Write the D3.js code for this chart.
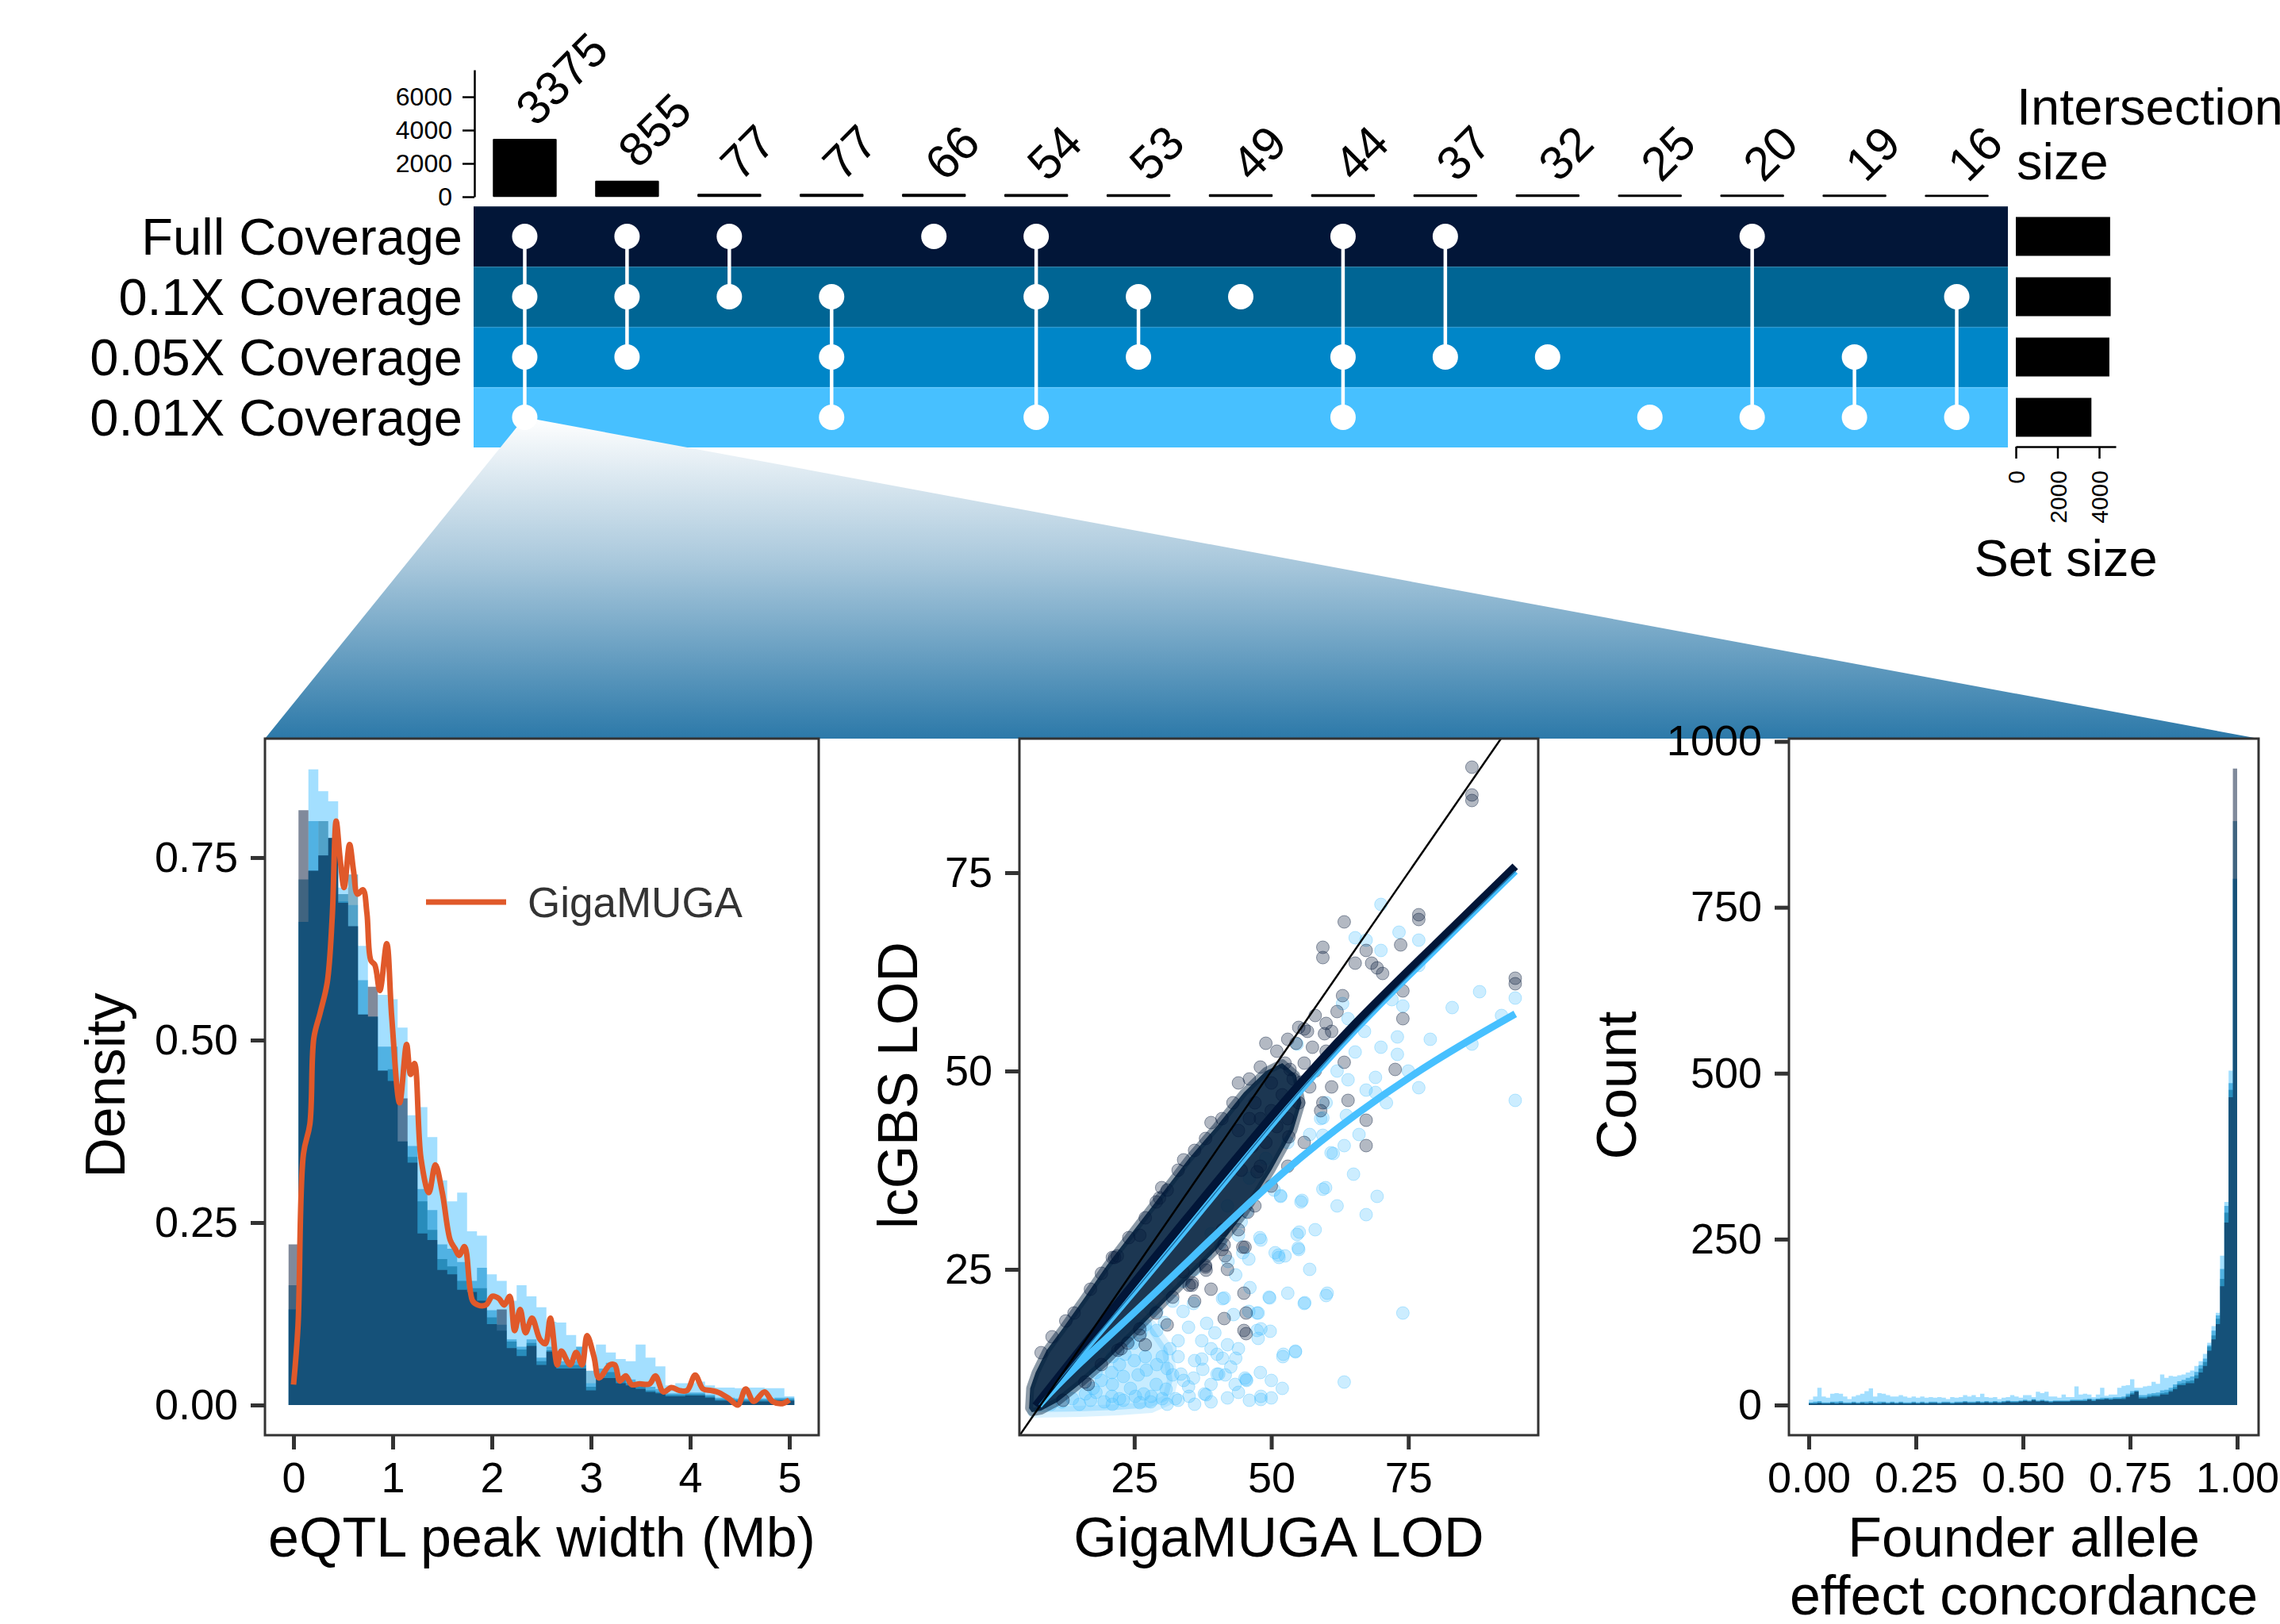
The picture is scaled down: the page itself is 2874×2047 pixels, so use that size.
<!DOCTYPE html>
<html><head><meta charset="utf-8">
<script src="https://cdn.jsdelivr.net/npm/d3@7"></script>
<style>
html,body{margin:0;padding:0;background:#fff;}
svg{display:block;font-family:"Liberation Sans",Arial,Helvetica,sans-serif;}
</style>
</head><body>
<svg id="chart" width="2874" height="2047"></svg>
<script>
// ---------------- DATA ----------------
const sets = ["Full Coverage","0.1X Coverage","0.05X Coverage","0.01X Coverage"];
const setColors = ["#021638","#006594","#0086C8","#47C0FF"];
const setSizes = [4528,4556,4492,3630];
const intersectionSizes = [3375,855,77,77,66,54,53,49,44,37,32,25,20,19,16];
const intersectionMembers = [[0,1,2,3],[0,1,2],[0,1],[1,2,3],[0],[0,1,3],[1,2],[1],[0,2,3],[0,2],[2],[3],[0,3],[2,3],[1,3]];
const interTicks = [0,2000,4000,6000];
const setTicks = [0,2000,4000];

// Panel 1: eQTL peak width density histograms (bins of 0.1 Mb centred on 0..5)
const p1Full  = [.22,.815,.732,.753,.777,.688,.656,.535,.573,.458,.444,.42,.332,.235,.226,.185,.179,.158,.155,.143,.111,.131,.078,.067,.081,.055,.073,.05,.05,.05,.02,.037,.037,.03,.027,.022,.018,.016,.012,.012,.013,.013,.01,.006,.006,.005,.005,.005,.005,.006,.006];
const p1X01   = [.164,.72,.732,.80,.777,.70,.727,.535,.532,.458,.46,.361,.34,.279,.24,.20,.19,.17,.16,.16,.12,.102,.087,.076,.085,.06,.075,.055,.055,.055,.025,.04,.045,.035,.03,.025,.02,.018,.014,.014,.015,.015,.012,.008,.008,.007,.007,.007,.007,.008,.008];
const p1X005  = [.131,.662,.80,.753,.777,.69,.656,.582,.532,.491,.491,.361,.355,.296,.267,.22,.214,.196,.17,.188,.13,.11,.09,.08,.09,.065,.08,.06,.06,.08,.047,.05,.058,.04,.035,.03,.025,.022,.016,.016,.017,.017,.014,.01,.01,.009,.009,.009,.009,.01,.01];
const p1X001  = [.131,.662,.871,.841,.827,.709,.685,.629,.532,.562,.556,.517,.397,.408,.367,.308,.279,.291,.238,.232,.179,.17,.143,.164,.149,.134,.114,.113,.096,.08,.03,.083,.072,.063,.06,.083,.065,.053,.027,.03,.03,.032,.027,.024,.024,.023,.024,.024,.023,.023,.012];
const p1Ticks = [0,0.25,0.5,0.75];
const p1XTicks = [0,1,2,3,4,5];
const gigaMUGA = [[0,0.028],[0.045,0.108],[0.1,0.344],[0.165,0.385],[0.205,0.503],[0.27,0.538],[0.34,0.579],[0.39,0.668],[0.43,0.80],[0.47,0.748],[0.51,0.709],[0.565,0.768],[0.605,0.732],[0.645,0.70],[0.7,0.706],[0.74,0.674],[0.78,0.609],[0.82,0.603],[0.87,0.568],[0.94,0.632],[0.99,0.532],[1.07,0.414],[1.14,0.494],[1.18,0.453],[1.22,0.468],[1.285,0.338],[1.365,0.291],[1.43,0.329],[1.5,0.291],[1.58,0.226],[1.63,0.214],[1.67,0.205],[1.725,0.217],[1.805,0.143],[1.86,0.137],[1.94,0.137],[2.005,0.149],[2.07,0.146],[2.125,0.137],[2.18,0.149],[2.23,0.102],[2.285,0.131],[2.34,0.099],[2.405,0.119],[2.485,0.09],[2.54,0.084],[2.59,0.119],[2.66,0.055],[2.70,0.074],[2.79,0.055],[2.85,0.072],[2.91,0.055],[2.96,0.095],[3.03,0.066],[3.08,0.037],[3.19,0.055],[3.24,0.055],[3.29,0.033],[3.35,0.04],[3.41,0.028],[3.49,0.029],[3.59,0.029],[3.65,0.04],[3.73,0.018],[3.81,0.024],[3.89,0.02],[3.97,0.02],[4.05,0.041],[4.13,0.022],[4.21,0.02],[4.29,0.017],[4.39,0.009],[4.48,0.0],[4.56,0.022],[4.64,0.005],[4.75,0.018],[4.83,0.005],[4.93,0.002],[5.0,0.007]];

// Panel 2: LOD scatter
const p2Ticks = [25,50,75];
const fitFull = [[7,7.8],[15,14.8],[25.5,23.8],[40,36],[52,46],[65,56],[80,66],[94.5,75.8]];
const fitMid  = [[7.6,7.9],[15,14.2],[25.5,22.6],[40,34.8],[52,45],[65,55.2],[80,65.4],[94.5,75.2]];
const fitLow  = [[7.6,7.9],[12.3,11.5],[25.5,19.8],[40,29.5],[52,37.3],[65,44.5],[80,51.5],[94.5,57.2]];
const coreFull = [[5.8,7.5],[6,10],[7,12],[9,14.8],[12,17.6],[16,21.5],[20,25.5],[25,30],[30,34.5],[35,39],[40,43],[45,47.3],[49,50],[52,51],[54.5,49.5],[55.5,46],[54,42.5],[50,37.5],[45,32],[40,27.5],[35,24],[30,20.5],[25,17],[20,13.5],[15,10.5],[11,8.3],[8,7.2],[6.3,7]];
const coreLow = [[6.5,7],[15,7.1],[22,7.3],[28,7.6],[31,8.5],[32,11],[31,15],[28,18],[25,19],[20,15.8],[15,12.8],[10,9.8],[7,7.8]];
const navyPts = [[86.6,88.3],[86.6,84.8],[86.6,84.1],[63.3,68.8],[59.4,65.6],[59.4,64.3],[67.3,65.2],[65.3,63.6],[73.6,65.9],[76.9,69.7],[76.9,69.1],[68.3,63.6],[69.3,63],[70.3,62.3],[74,60.1],[74,56.6],[72.6,50.2],[94.5,61.7],[94.5,61],[63,59.5],[60,56],[59.7,54.7],[63.3,51.1],[64,46.3],[59.4,46],[67.3,43.8],[67.3,40.6],[56,55.3],[56.6,55],[53.4,50.2],[55.4,48.6],[45.4,19.5],[45.4,16.9],[41.4,18.8],[38.1,24.9],[35.5,23],[41.4,28.1],[44.8,27.8],[45.2,27.8],[41.6,26.7],[45,22],[45,17.3],[35.6,23.3],[38,25.3],[22.6,15],[16.6,10.5],[26,16.7],[23.8,15.7],[33.9,24.7],[41.1,30],[45.7,32.2],[47.4,37.3],[53.2,41.7],[21.9,26.7],[29.6,34],[26,29.3],[21.4,26.5],[50,45],[52,47],[54,49],[56,51],[48,44],[51,43],[53,44],[55,46],[57,48],[50,48.5],[52.5,51],[54.5,53.5],[49,41],[46.5,40.5],[48,38],[44.5,37.5],[58,50],[60,52.5],[61,55],[62,57.5],[57.5,53],[47,46],[44,42.5],[46,44],
  [8,14.5],[10,16.5],[12.5,18.5],[14,19.5],[17,22.5],[19,24.5],[21,26.5],[24,29],[27,31.5],[29,33.5],[31,35],[33,37.5],[36,40],[38,41.5],[41,44],[43,46],[46,49],[48,50.5],[51,52.5],[53,54],[55,55.5],[58,57],[49,53.5],[44,48.5],[39,43.5],[34,38.8],[30,35.3],
  [12,8.5],[16,10.8],[19,13],[22,14.8],[26,17.5],[29,19.5],[32,21.5],[35,23],[38,25.5],[41,27.5],[44,30],[47,33],[50,35.5],[53,38],[56,41],[59,45],[61,48],[36,21],[39,22.5],[42,25],[31,18],[27,15.5]];
const lightPts = [[70,71],[65.3,66.8],[67.3,66.5],[73.3,67.5],[76.9,66.5],[76.9,63.3],[70,65.2],[74,58.2],[73,54.3],[73,52.1],[94.5,59.2],[94.5,46.3],[86.6,53.4],[76.9,47.9],[63,58.5],[64,56.6],[65.3,52.4],[64,48.9],[63.7,44.4],[59.4,44.1],[59.4,41.9],[67.3,47.6],[69,49.2],[69,47.3],[69.3,34.2],[67.3,31.9],[59.4,35.1],[55.4,33.5],[51.7,34.2],[61.3,39.6],[63.3,40.6],[54.7,53.4],[74,19.5],[60,21.7],[56,20.7],[63.3,10.8],[54.4,14.6],[52.1,14],[51.4,26.5],[54.7,29.4],[55,27.5],[48.1,28.7],[46.1,22.7],[49.7,21.4],[47.4,19.5],[48.1,17.5],[45.4,11.1],[48.1,8.6],[41.4,21.4],[44.8,27.1],[40.1,14.3],[37.5,12.4],[40.1,11.8],[43.4,10.5],[38.1,9.2],[33.5,11.8],[30.8,9.9],[50.7,27.1],[47.9,29],[55.1,29.7],[54.9,27.7],[51.3,26.8],[52.5,26.7],[60.2,22],[56.1,20.8],[49.6,21.5],[59.9,35.3],[55.6,33.7],[50.5,35],[51.7,34.3],[41.1,21.3],[38.2,18.2],[39.7,17],[47.4,17.3],[49.8,17.2],[47.6,16.3],[45.9,19.7],[47.6,19.5],[43.1,19.3],[52.2,14.3],[54.4,14.7],[41.1,13.8],[43.5,13.8],[37.3,13.7],[42.6,12.7],[40.4,11.8],[41.6,11.7],[45.2,11.3],[45.5,11],[37.8,9.3],[48.1,9],[35.8,11.3],[34.9,10.2],[32,11.7],[32.5,8.7],[30.1,8.7],[28.1,9],[26.7,9.3],[25.2,9],[24.3,10],[22.3,8.7],[20.9,9],[19.5,8.3],[33,16],[31.5,15],[30.1,14],[29.1,13],[27.2,12.3],[25.7,11.7],[29.1,17.3],[30.5,18.3],[33.9,19.7],[35.8,20.7],[34.9,17.7],[37.3,16],[32,21],[29.1,19.7],[26.2,17],[24.8,15.7],[23.3,14.3],[22.3,13],[20.9,12],[19,11],[17.5,10],[16.1,9.3],[13.7,8.7],[11.8,8.3],[9.8,8],[45.9,26.3],[43.5,24.3],[42.1,26],[44,29.3],[44.5,31],[45.5,32.3],[40.7,28.3],[59,44],[60.9,39.7],
  [15,8],[17,8.5],[21,8],[23,8.5],[26,8.2],[28,8.3],[31,8],[33,8.5],[35,9],[36,8],[39,8.3],[42,8.8],[44,9.5],[46,8.5],[50,8.8],[18,12],[21,14],[24,16],[27,18],[28,20],[31,22.5],[34,23.5],[36,25],[38,27],[39,29.5],[42,33],[46,36.5],[49,39],[53,41],[57,42],[60,46],[62,50],[48,12],[50,11],[52,10],[44,15],[39,15],[36,13.5],[33,14],[27,14],[25,13.5],[23,11.5],[21,10.5],[18,9.5],[29,10.5],[31,12.5],[34,11],[39,10.5],[42,15.5],[53,22],[57,25],[58,30],[62,33],[65,37],[66,42],[71,46],[75,50],[79,54],[83,58],[88,60],[92,57],[70,53],[67,55],[72,59]];

// Panel 3: founder allele effect concordance (bins of 0.01 from 0 to 1)
const p3Full = [2,2,3,2,2,3,2,3,2,2, 3,2,3,2,3,2,2,3,2,3, 2,3,2,2,3,2,3,2,3,3, 2,3,3,2,3,3,4,3,3,4, 3,4,3,4,3,4,5,4,4,5, 6,5,7,5,6,5,4,5,5,5, 5,6,6,6,6,8,6,8,8,9, 8,9,9,9,12,16,20,10,10,12, 13,13,16,16,20,24,30,30,33,33, 40,49,59,82,99,122,179,275,464,959];
const p3X01  = [3,3,4,3,3,4,3,4,3,3, 4,3,4,3,4,3,3,4,3,4, 3,4,3,3,4,3,4,3,4,4, 3,4,4,3,4,4,5,4,4,5, 4,5,4,5,4,5,6,5,5,6, 7,6,8,6,7,6,5,6,6,6, 6,7,7,7,7,9,7,9,9,10, 9,10,10,11,14,18,21,12,12,14, 15,15,18,19,22,27,32,33,36,37, 45,55,65,88,105,130,190,290,475,880];
const p3X005 = [4,5,6,4,4,5,5,6,4,4, 5,4,5,5,6,4,5,5,4,5, 4,5,4,4,5,4,5,4,5,5, 4,5,5,4,5,5,6,5,5,6, 5,6,5,6,5,6,7,6,6,7, 8,7,9,7,8,7,6,7,7,7, 7,8,8,8,9,10,9,10,11,11, 11,12,12,13,17,21,22,15,15,17, 18,19,22,23,26,31,36,38,41,43, 50,60,70,90,112,135,205,300,485,793];
const p3X001 = [8,13,26,13,11,17,18,17,13,9, 13,15,17,21,25,13,18,17,15,13, 13,15,13,11,13,11,13,11,12,11, 12,11,9,12,11,12,15,13,15,12, 17,12,11,12,9,11,12,15,13,11, 15,15,12,20,18,20,13,13,11,16, 12,12,28,16,17,16,12,16,26,14, 16,16,26,29,30,39,26,26,28,29, 35,32,46,41,44,43,45,46,49,52, 59,66,77,94,119,139,225,306,504,793];
const p3YTicks = [0,250,500,750,1000];
const p3XTicks = [0,0.25,0.5,0.75,1];

// ---------------- DRAW ----------------
const svg = d3.select("#chart");
const defs = svg.append("defs");
const FF = "Liberation Sans, Arial, sans-serif";

// ----- UpSet -----
const colX = d3.scaleBand().domain(d3.range(intersectionSizes.length)).range([597,2531]).paddingInner(0.38).paddingOuter(0.19);
const rowY = d3.scaleBand().domain(d3.range(sets.length)).range([260,564]);
const interY = d3.scaleLinear().domain([0,7620]).range([248,88]);
const setX = d3.scaleLinear().domain([0,4800]).range([2541,2667]);
const cx = i => colX(i) + colX.bandwidth()/2;
const cy = r => rowY(r) + rowY.bandwidth()/2;

svg.append("g").selectAll("rect").data(intersectionSizes).enter().append("rect")
  .attr("x",(d,i)=>colX(i)+1).attr("width",colX.bandwidth()-2)
  .attr("y",d=>interY(d)-1).attr("height",d=>interY(0)-interY(d))
  .attr("fill","#000").attr("stroke","#000").attr("stroke-width",2.5).attr("stroke-linejoin","round");

svg.append("g").selectAll("text").data(intersectionSizes).enter().append("text")
  .attr("transform",(d,i)=>`translate(${cx(i)+14},${interY(d)-16}) rotate(-45)`)
  .attr("font-size",60).attr("fill","#000").text(d=>d);

const ia = svg.append("g").attr("transform","translate(598,0)")
  .call(d3.axisLeft(interY).tickValues(interTicks).tickFormat(d3.format("d")).tickSize(15).tickSizeOuter(0).tickPadding(13));
ia.selectAll("path,line").attr("stroke","#000").attr("stroke-width",2.5);
ia.selectAll("text").attr("font-size",32).attr("fill","#000").attr("font-family",FF);

svg.append("text").attr("x",2542).attr("y",157).attr("font-size",65).text("Intersection");
svg.append("text").attr("x",2542).attr("y",226).attr("font-size",65).text("size");

// matrix background
svg.append("g").selectAll("rect").data(sets).enter().append("rect")
  .attr("x",597).attr("width",2531-597).attr("y",(d,i)=>rowY(i)).attr("height",rowY.bandwidth())
  .attr("fill",(d,i)=>setColors[i]);
svg.append("g").selectAll("line").data(d3.range(sets.length)).enter().append("line")
  .attr("x1",597).attr("x2",2531).attr("y1",i=>rowY(i)+0.5).attr("y2",i=>rowY(i)+0.5)
  .attr("stroke","#ffffff").attr("stroke-opacity",0.18).attr("stroke-width",1.5);

svg.append("g").selectAll("text").data(sets).enter().append("text")
  .attr("x",583).attr("y",(d,i)=>cy(i)).attr("dy","0.36em").attr("text-anchor","end")
  .attr("font-size",65).attr("fill","#000").text(d=>d);

// panel boxes (bottom)
const B1 = {x0:334,x1:1032,y0:931,y1:1809};
const B2 = {x0:1285,x1:1939,y0:931,y1:1809};
const B3 = {x0:2255,x1:2847,y0:931,y1:1809};

// zoom polygon with gradient (apex = the 0.01X dot of the largest intersection)
const grad = defs.append("linearGradient").attr("id","zoomGrad").attr("gradientUnits","userSpaceOnUse")
  .attr("x1",0).attr("x2",0).attr("y1",cy(3)).attr("y2",B1.y0);
grad.append("stop").attr("offset",0).attr("stop-color","#ffffff");
grad.append("stop").attr("offset",0.45).attr("stop-color","#a9c8dc");
grad.append("stop").attr("offset",1).attr("stop-color","#2c79a9");
svg.append("path")
  .attr("d",`M${cx(0)},${cy(3)}L${B1.x0},${B1.y0}L${B3.x1},${B3.y0}Z`)
  .attr("fill","url(#zoomGrad)");

// connecting lines and dots
const mg = svg.append("g");
intersectionMembers.forEach((m,i)=>{
  const lo = d3.min(m), hi = d3.max(m);
  if (hi>lo) mg.append("line").attr("x1",cx(i)).attr("x2",cx(i)).attr("y1",cy(lo)).attr("y2",cy(hi))
    .attr("stroke","#fff").attr("stroke-width",4.5);
  m.forEach(r=> mg.append("circle").attr("cx",cx(i)).attr("cy",cy(r)).attr("r",16).attr("fill","#fff"));
});

// set size bars
svg.append("g").selectAll("rect").data(setSizes).enter().append("rect")
  .attr("x",setX(0)).attr("width",d=>setX(d)-setX(0))
  .attr("y",(d,i)=>cy(i)-24.5).attr("height",49).attr("fill","#000");
const sa = svg.append("g").attr("transform","translate(0,563)")
  .call(d3.axisBottom(setX).tickValues(setTicks).tickFormat(d3.format("d")).tickSize(15).tickSizeOuter(0));
sa.selectAll("path,line").attr("stroke","#000").attr("stroke-width",2.5);
sa.selectAll("text").attr("transform","rotate(-90)").attr("x",-30).attr("y",0).attr("dy","0.35em")
  .attr("text-anchor","end").attr("font-size",30).attr("fill","#000").attr("font-family",FF);
svg.append("text").attr("x",2604).attr("y",726).attr("text-anchor","middle").attr("font-size",65).text("Set size");

// ----- helpers for bottom panels -----
function styleAxis(g){
  g.select(".domain").remove();
  g.selectAll("line").attr("stroke","#333").attr("stroke-width",5);
  g.selectAll("text").attr("font-size",54).attr("fill","#000").attr("font-family",FF);
}
function frame(B){
  svg.append("rect").attr("x",B.x0).attr("y",B.y0).attr("width",B.x1-B.x0).attr("height",B.y1-B.y0)
    .attr("fill","none").attr("stroke","#333").attr("stroke-width",3);
}
function clip(id,B){
  defs.append("clipPath").attr("id",id).append("rect").attr("x",B.x0).attr("y",B.y0).attr("width",B.x1-B.x0).attr("height",B.y1-B.y0);
}
function stepHist(g, x, y, edges, width, vals, color){
  const pts = vals.map((v,i)=>({x:edges[i], v}));
  pts.push({x:edges[vals.length-1]+width, v:vals[vals.length-1]});
  g.append("path").datum(pts)
    .attr("d", d3.area().curve(d3.curveStepAfter).x(d=>x(d.x)).y0(y(0)).y1(d=>y(d.v)))
    .attr("fill",color).attr("fill-opacity",0.5);
}

// ----- Panel 1 -----
const x1 = d3.scaleLinear().domain([-0.288,5.296]).range([B1.x0,B1.x1]);
const y1 = d3.scaleLinear().domain([-0.0413,0.913]).range([B1.y1,B1.y0]);
clip("c1",B1);
const g1 = svg.append("g").attr("clip-path","url(#c1)");
const edges1 = d3.range(p1Full.length).map(i=>i*0.1-0.05);
[[p1X001,3],[p1X005,2],[p1X01,1],[p1Full,0]].forEach(([v,c])=>stepHist(g1,x1,y1,edges1,0.1,v,setColors[c]));
g1.append("path").datum(gigaMUGA)
  .attr("d", d3.line().curve(d3.curveCatmullRom.alpha(0.5)).x(d=>x1(d[0])).y(d=>y1(d[1])))
  .attr("fill","none").attr("stroke","#E0592A").attr("stroke-width",7).attr("stroke-linejoin","round");
svg.append("line").attr("x1",537).attr("x2",638).attr("y1",1137).attr("y2",1137).attr("stroke","#E0592A").attr("stroke-width",7);
svg.append("text").attr("x",665).attr("y",1137).attr("dy","0.36em").attr("font-size",53).attr("fill","#333").text("GigaMUGA");
frame(B1);
styleAxis(svg.append("g").attr("transform",`translate(${B1.x0},0)`)
  .call(d3.axisLeft(y1).tickValues(p1Ticks).tickFormat(d3.format(".2f")).tickSize(18).tickPadding(16)));
styleAxis(svg.append("g").attr("transform",`translate(0,${B1.y1})`)
  .call(d3.axisBottom(x1).tickValues(p1XTicks).tickFormat(d3.format("d")).tickSize(18).tickPadding(16)));

// ----- Panel 2 -----
const x2 = d3.scaleLinear().domain([4.04,98.7]).range([B2.x0,B2.x1]);
const y2 = d3.scaleLinear().domain([4.1,91.9]).range([B2.y1,B2.y0]);
clip("c2",B2);
const g2 = svg.append("g").attr("clip-path","url(#c2)");
const polyXY = d3.line().curve(d3.curveLinearClosed).x(d=>x2(d[0])).y(d=>y2(d[1]));
g2.append("path").datum(coreLow).attr("d",polyXY).attr("fill","#47C0FF").attr("fill-opacity",0.3)
  .attr("stroke","#47C0FF").attr("stroke-opacity",0.2).attr("stroke-width",14).attr("stroke-linejoin","round");
g2.selectAll(null).data(lightPts).enter().append("circle")
  .attr("cx",d=>x2(d[0])).attr("cy",d=>y2(d[1])).attr("r",8)
  .attr("fill","#47C0FF").attr("fill-opacity",0.28).attr("stroke","#47C0FF").attr("stroke-opacity",0.35).attr("stroke-width",1);
g2.append("path").datum(coreFull).attr("d",polyXY)
  .attr("fill","#03213F").attr("fill-opacity",0.9).attr("stroke","#03213F").attr("stroke-opacity",0.45)
  .attr("stroke-width",10).attr("stroke-linejoin","round");
g2.selectAll(null).data(navyPts).enter().append("circle")
  .attr("cx",d=>x2(d[0])).attr("cy",d=>y2(d[1])).attr("r",8)
  .attr("fill","#021638").attr("fill-opacity",0.3).attr("stroke","#021638").attr("stroke-opacity",0.4).attr("stroke-width",1);
const fitLine = d3.line().curve(d3.curveBasis).x(d=>x2(d[0])).y(d=>y2(d[1]));
g2.append("path").datum(fitLow).attr("d",fitLine).attr("fill","none").attr("stroke","#47C0FF").attr("stroke-width",9);
g2.append("path").datum(fitMid).attr("d",fitLine).attr("fill","none").attr("stroke","#47C0FF").attr("stroke-width",9);
g2.append("path").datum(fitFull).attr("d",fitLine).attr("fill","none").attr("stroke","#021638").attr("stroke-width",10);
g2.append("path").datum(fitMid).attr("d",fitLine).attr("fill","none").attr("stroke","#1d6fa3").attr("stroke-width",1.5);
g2.append("line").attr("x1",x2(0)).attr("y1",y2(0)).attr("x2",x2(100)).attr("y2",y2(100))
  .attr("stroke","#000").attr("stroke-width",2.5);
frame(B2);
styleAxis(svg.append("g").attr("transform",`translate(${B2.x0},0)`)
  .call(d3.axisLeft(y2).tickValues(p2Ticks).tickSize(18).tickPadding(16)));
styleAxis(svg.append("g").attr("transform",`translate(0,${B2.y1})`)
  .call(d3.axisBottom(x2).tickValues(p2Ticks).tickSize(18).tickPadding(16)));

// ----- Panel 3 -----
const x3 = d3.scaleLinear().domain([-0.0463,1.05]).range([B3.x0,B3.x1]);
const y3 = d3.scaleLinear().domain([-45.4,1004.2]).range([B3.y1,B3.y0]);
clip("c3",B3);
const g3 = svg.append("g").attr("clip-path","url(#c3)");
const edges3 = d3.range(p3Full.length).map(i=>i/100);
[[p3X001,3],[p3X005,2],[p3X01,1],[p3Full,0]].forEach(([v,c])=>stepHist(g3,x3,y3,edges3,0.01,v,setColors[c]));
frame(B3);
styleAxis(svg.append("g").attr("transform",`translate(${B3.x0},0)`)
  .call(d3.axisLeft(y3).tickValues(p3YTicks).tickFormat(d3.format("d")).tickSize(18).tickPadding(16)));
styleAxis(svg.append("g").attr("transform",`translate(0,${B3.y1})`)
  .call(d3.axisBottom(x3).tickValues(p3XTicks).tickFormat(d3.format(".2f")).tickSize(18).tickPadding(16)));

// ----- axis titles -----
const T = 70;
svg.append("text").attr("x",(B1.x0+B1.x1)/2).attr("y",1962).attr("text-anchor","middle").attr("font-size",T).text("eQTL peak width (Mb)");
svg.append("text").attr("x",(B2.x0+B2.x1)/2).attr("y",1962).attr("text-anchor","middle").attr("font-size",T).text("GigaMUGA LOD");
svg.append("text").attr("x",(B3.x0+B3.x1)/2).attr("y",1962).attr("text-anchor","middle").attr("font-size",T).text("Founder allele");
svg.append("text").attr("x",(B3.x0+B3.x1)/2).attr("y",2035).attr("text-anchor","middle").attr("font-size",T).text("effect concordance");
svg.append("text").attr("transform","translate(157,1368) rotate(-90)").attr("text-anchor","middle").attr("font-size",T).text("Density");
svg.append("text").attr("transform","translate(1156,1368) rotate(-90)").attr("text-anchor","middle").attr("font-size",T).text("lcGBS LOD");
svg.append("text").attr("transform","translate(2062,1368) rotate(-90)").attr("text-anchor","middle").attr("font-size",T).text("Count");
</script>
</body></html>
